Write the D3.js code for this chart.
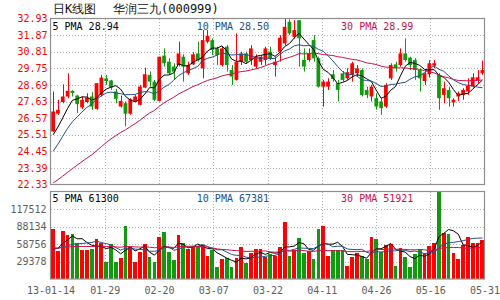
<!DOCTYPE html>
<html>
<head>
<meta charset="utf-8">
<script src="https://cdn.jsdelivr.net/npm/d3@7/dist/d3.min.js"></script>
<style>
    body { margin: 0; background: #fff; }
    text { font-family: "DejaVu Sans Mono", monospace; font-size: 10px; }
</style>
</head>
<body>
<div class="kline"></div>
<script>
/* tick labels */
const dateTicks = ['13-01-14', '01-29', '02-20', '03-07', '03-22', '04-11', '04-26', '05-16', '05-31']
const priceTicks = [32.93, 31.87, 30.81, 29.75, 28.69, 27.63, 26.57, 25.51, 24.45, 23.39, 22.33]
const volTicks = [117512, 88134, 58756, 29378]
const volMax = 146890

/* daily candles 13-01-14 .. 13-05-31 */
const open = [25.72, 26.85, 27.59, 27.95, 28.31, 28.01, 27.25, 27.59, 27.95, 27.16,
    28.05, 29.11, 28.97, 28.27, 27.31, 27.52, 26.85, 27.63, 27.42, 28.52,
    29.33, 28.90, 27.67, 30.56, 30.17, 29.86, 29.96, 30.49, 29.43, 30.00,
    30.70, 29.75, 31.45, 31.55, 31.02, 29.96, 31.13, 29.64, 29.01, 30.17,
    30.70, 30.28, 29.86, 30.17, 30.28, 30.81, 29.96, 30.81, 31.34, 32.72,
    31.76, 32.82, 30.28, 30.28, 31.55, 30.39, 28.58, 28.58, 29.37, 28.80,
    29.43, 29.11, 29.33, 29.43, 29.64, 28.37, 27.95, 27.84, 27.63, 27.31,
    29.11, 30.00, 29.96, 30.70, 30.43, 30.28, 29.64, 28.94, 29.37, 29.92,
    29.33, 28.05, 28.37, 27.57, 27.95, 28.05, 28.27, 28.58, 28.97, 29.43]
const high = [28.27, 27.74, 28.73, 29.43, 28.35, 28.05, 27.95, 28.16, 28.22, 28.80,
    29.33, 29.33, 29.01, 28.44, 28.01, 27.63, 27.84, 28.05, 28.69, 29.79,
    29.54, 29.01, 30.49, 31.02, 30.39, 30.07, 31.45, 30.64, 30.17, 30.77,
    31.45, 32.19, 32.19, 31.66, 31.13, 31.13, 31.23, 29.96, 31.98, 30.81,
    30.81, 31.23, 30.64, 30.60, 31.13, 31.13, 30.49, 31.87, 32.93, 32.88,
    32.82, 32.82, 31.02, 31.02, 31.87, 30.49, 29.01, 29.11, 29.64, 29.01,
    29.58, 29.75, 30.17, 29.96, 29.75, 28.58, 28.69, 28.16, 27.84, 28.80,
    30.07, 30.17, 31.02, 31.66, 30.49, 30.39, 29.75, 29.64, 30.28, 30.28,
    29.43, 28.90, 28.58, 27.84, 28.27, 28.48, 29.11, 29.43, 29.64, 30.24]
const low = [25.68, 26.78, 27.52, 27.84, 27.95, 26.89, 27.16, 27.52, 27.10, 27.10,
    27.95, 28.69, 28.37, 27.52, 27.25, 26.04, 26.78, 27.59, 27.38, 28.48,
    28.58, 27.67, 27.63, 29.86, 29.33, 29.01, 29.86, 28.90, 29.33, 29.96,
    30.17, 29.11, 31.34, 30.60, 29.96, 29.86, 29.54, 28.69, 28.97, 29.96,
    30.07, 29.96, 29.75, 29.96, 29.96, 30.28, 29.22, 30.17, 31.23, 31.87,
    31.66, 29.86, 29.54, 30.17, 30.17, 28.52, 27.31, 28.37, 28.90, 27.63,
    28.90, 29.01, 28.90, 29.22, 27.95, 27.84, 27.63, 27.10, 26.78, 27.21,
    29.01, 29.54, 29.86, 30.17, 29.64, 29.01, 28.27, 28.69, 29.16, 29.75,
    27.10, 27.52, 27.31, 27.31, 27.67, 27.74, 28.05, 28.52, 28.80, 29.33]
const close = [26.99, 27.10, 27.95, 28.31, 28.18, 27.46, 27.74, 27.88, 27.31, 28.80,
    29.16, 28.94, 28.52, 27.80, 27.67, 26.85, 27.78, 27.95, 28.58, 29.37,
    28.90, 27.74, 30.49, 30.07, 29.43, 29.54, 30.70, 29.86, 29.96, 30.64,
    30.28, 31.55, 31.83, 30.92, 30.60, 31.02, 29.96, 29.22, 30.17, 30.70,
    30.17, 31.02, 30.49, 30.49, 31.02, 30.39, 30.17, 31.70, 32.40, 31.98,
    32.19, 31.66, 29.86, 30.70, 30.39, 28.58, 28.90, 28.90, 29.07, 28.37,
    29.01, 29.50, 30.07, 29.75, 28.05, 28.05, 28.58, 27.31, 27.21, 28.69,
    29.96, 29.75, 30.70, 30.28, 29.96, 29.64, 29.11, 29.43, 30.07, 30.07,
    27.84, 28.48, 27.84, 27.74, 28.16, 28.37, 28.63, 29.18, 29.18, 29.64]
const volume = [83900, 47500, 80600, 73900, 75500, 59900, 48700, 48700, 50400, 67100,
    59900, 29000, 58800, 29000, 34700, 89500, 54200, 29000, 45800, 58800,
    37400, 29000, 71000, 79400, 45800, 31900, 73900, 59900, 49900, 54200,
    55400, 57100, 38600, 48700, 20600, 33100, 34700, 19600, 34700, 53200,
    26400, 44200, 49900, 49900, 36400, 42000, 38600, 54200, 96200, 38600,
    48700, 68300, 44200, 47500, 33100, 83400, 89000, 38600, 48700, 48700,
    48700, 21800, 36400, 44200, 38600, 33100, 70000, 66600, 45800, 57100,
    58800, 21800, 51500, 36400, 19600, 42000, 49900, 43100, 55400, 60900,
    146000, 77700, 75500, 44200, 33100, 57100, 70000, 60900, 59900, 65500]

/* estimated sessions before 01-14, only used to start the moving averages */
const priorClose = [21.0, 20.9, 21.1, 21.0, 20.9, 21.0, 21.1, 21.0, 21.2, 21.1,
    21.3, 21.4, 21.5, 21.6, 21.8, 21.9, 22.0, 22.1, 22.2, 22.3,
    22.5, 22.9, 23.3, 23.9, 24.4, 24.6, 25.0, 25.3, 25.6]
const priorVolume = [48000, 55000, 50000, 53000, 47000, 56000, 51000, 54000, 49000, 52000,
    57000, 50000, 53000, 48000, 55000, 52000, 51000, 54000, 50000, 55000,
    55000, 52000, 58000, 50000, 54000, 42000, 38000, 45000, 43000]

/* legend values shown in the picture */
const maPeriods = [5, 10, 30]
const maPriceLast = ['28.94', '28.50', '28.99']
const maVolLast = ['61300', '67381', '51921']

const width = 500
const height = 300
const left = 50.5
const right = 484.5
const main = { top: 18.5, bottom: 184.5 }
const vol = { top: 191.5, bottom: 279 }
const red = '#ff0000'
const green = '#119a0e'
const maColors = ['#000000', '#24508a', '#c8144c']

const svg = d3.select('.kline')
    .append('svg')
    .attr('width', width)
    .attr('height', height)

const idx = d3.range(close.length)
const x = d3.scaleBand().domain(idx).range([left + 0.5, right]).paddingInner(0.22).paddingOuter(0.05)
const cx = i => x(i) + x.bandwidth() / 2
const gx = d3.scaleLinear().domain([0, 8]).range([left, right])
const y = d3.scaleLinear().domain([22.33, 32.93]).range([main.bottom, main.top])
const yv = d3.scaleLinear().domain([0, volMax]).range([vol.bottom, vol.top])

const isUp = i => close[i] >= open[i]

// moving average using the earlier sessions for the first days
const movingAvg = (prior, values, n) => {
    const all = prior.concat(values)
    return values.map((v, i) => d3.mean(all.slice(i + prior.length - n + 1, i + prior.length + 1)))
}

/* grid */
const grid = svg.append('g')
    .attr('stroke', '#b4b4b4')
    .attr('stroke-dasharray', '1,2')
    .attr('shape-rendering', 'crispEdges')
grid.selectAll('.hmain').data(priceTicks.slice(1, -1)).join('line')
    .attr('x1', left).attr('x2', right)
    .attr('y1', d => Math.round(y(d)) + 0.5).attr('y2', d => Math.round(y(d)) + 0.5)
grid.selectAll('.hvol').data(volTicks).join('line')
    .attr('x1', left).attr('x2', right)
    .attr('y1', d => Math.round(yv(d)) + 0.5).attr('y2', d => Math.round(yv(d)) + 0.5)
const vlines = d3.range(1, 8)
grid.selectAll('.vmain').data(vlines).join('line')
    .attr('x1', d => Math.round(gx(d)) + 0.5).attr('x2', d => Math.round(gx(d)) + 0.5)
    .attr('y1', main.top).attr('y2', main.bottom)
grid.selectAll('.vvol').data(vlines).join('line')
    .attr('x1', d => Math.round(gx(d)) + 0.5).attr('x2', d => Math.round(gx(d)) + 0.5)
    .attr('y1', vol.top).attr('y2', vol.bottom)

/* candles */
const candles = svg.append('g')
candles.selectAll('.wick').data(idx).join('line')
    .attr('x1', i => Math.round(cx(i)) + 0.5).attr('x2', i => Math.round(cx(i)) + 0.5)
    .attr('y1', i => y(high[i])).attr('y2', i => y(low[i]))
    .attr('stroke', i => isUp(i) ? red : green)
candles.selectAll('.body').data(idx).join('rect')
    .attr('x', i => x(i))
    .attr('width', x.bandwidth())
    .attr('y', i => y(Math.max(open[i], close[i])))
    .attr('height', i => Math.max(1, Math.abs(y(open[i]) - y(close[i]))))
    .attr('fill', i => isUp(i) ? red : green)

/* volume bars */
svg.append('g').selectAll('rect').data(idx).join('rect')
    .attr('x', i => x(i))
    .attr('width', x.bandwidth())
    .attr('y', i => yv(volume[i]))
    .attr('height', i => yv(0) - yv(volume[i]))
    .attr('fill', i => isUp(i) ? red : green)
    .attr('shape-rendering', 'crispEdges')

/* moving averages */
const line = scale => d3.line().x((d, i) => cx(i)).y(d => scale(d))
maPeriods.forEach((n, k) => {
    svg.append('path')
        .datum(movingAvg(priorClose, close, n))
        .attr('d', line(y))
        .attr('fill', 'none')
        .attr('stroke', maColors[k])
        .attr('stroke-width', 1)
    svg.append('path')
        .datum(movingAvg(priorVolume, volume, n))
        .attr('d', line(yv))
        .attr('fill', 'none')
        .attr('stroke', maColors[k])
        .attr('stroke-width', 1)
})

/* frames */
svg.selectAll('.frame').data([main, vol]).join('rect')
    .attr('x', left).attr('y', d => d.top)
    .attr('width', right - left).attr('height', d => d.bottom - d.top)
    .attr('fill', 'none')
    .attr('stroke', '#8e8e8e')
    .attr('stroke-width', 1.2)

/* legends */
maPeriods.forEach((n, k) => {
    const lx = 52.5 + k * 144.3
    svg.append('text').attr('x', lx).attr('y', 29.5)
        .attr('fill', maColors[k]).attr('xml:space', 'preserve')
        .text(`${n} PMA ${maPriceLast[k]}`)
    svg.append('text').attr('x', lx).attr('y', 201.5)
        .attr('fill', maColors[k]).attr('xml:space', 'preserve')
        .text(`${n} PMA ${maVolLast[k]}`)
})

/* axes */
const styleAxis = (g, color) => {
    g.select('.domain').remove()
    g.selectAll('text').attr('fill', color)
        .style('font-family', '"DejaVu Sans Mono", monospace').style('font-size', '10px')
}
svg.append('g')
    .attr('transform', `translate(${left},0)`)
    .call(d3.axisLeft(y).tickValues(priceTicks).tickSize(0).tickPadding(3).tickFormat(d3.format('.2f')))
    .call(g => styleAxis(g, red))
svg.append('g')
    .attr('transform', `translate(${left},0)`)
    .call(d3.axisLeft(yv).tickValues(volTicks).tickSize(0).tickPadding(4).tickFormat(d3.format('d')))
    .call(g => styleAxis(g, '#5e5e5e'))
svg.append('g')
    .attr('transform', `translate(0,${vol.bottom + 5})`)
    .call(d3.axisBottom(gx).tickValues(d3.range(9)).tickSize(0).tickPadding(3).tickFormat(i => dateTicks[i]))
    .call(g => styleAxis(g, '#5e5e5e'))

/* title */
const title = svg.append('g')
    .attr('fill', '#111')
    .style('font-family', '"Noto Sans CJK SC", sans-serif')
title.append('text').attr('x', 53).attr('y', 13).style('font-size', '12px').text('日K线图')
title.append('text').attr('x', 113).attr('y', 13).style('font-size', '12px').text('华润三九(000999)')
</script>
</body>
</html>
